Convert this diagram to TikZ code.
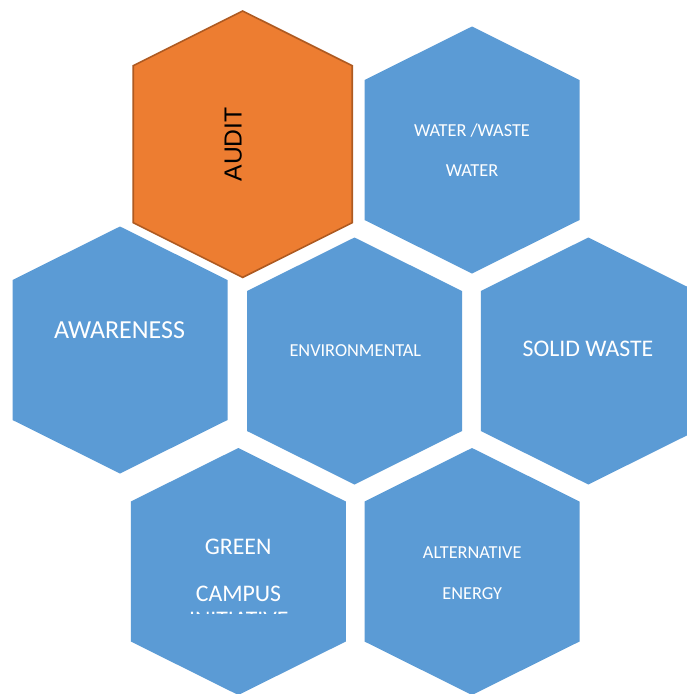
\documentclass[tikz,border=0pt]{standalone}
\usepackage{fontspec}
\setmainfont{Carlito}
\newfontfamily\auditfont{Liberation Sans}
\definecolor{hexblue}{HTML}{5B9BD5}
\definecolor{hexorange}{HTML}{ED7D31}
\definecolor{hexorangeline}{HTML}{AE5A21}
% hexagon with pointy top: #1 cx, #2 cy, #3 half width, #4 half height, #5 tip height, #6 style
\newcommand\hexagonpath[6]{%
  \path[#6] (#1,#2-#4) -- (#1+#3,#2-#4+#5) -- (#1+#3,#2+#4-#5) -- (#1,#2+#4)
    -- (#1-#3,#2+#4-#5) -- (#1-#3,#2-#4+#5) -- cycle;}
\newcommand\bluehex[2]{\hexagonpath{#1}{#2}{107.5}{123.5}{53.5}{bluefill}}
\tikzset{
  bluefill/.style={fill=hexblue},
  orangefill/.style={fill=hexorange, draw=hexorangeline, line width=1.6pt, line join=miter},
  smalltext/.style={text=white, inner sep=0pt, anchor=base, font=\fontsize{18.3}{22}\selectfont},
  bigtext/.style={text=white, inner sep=0pt, anchor=base, font=\fontsize{23.8}{28}\selectfont},
  hugetext/.style={text=white, inner sep=0pt, anchor=base, font=\fontsize{26}{30}\selectfont},
}
\begin{document}
\begin{tikzpicture}[x=1pt, y=-1pt]
\useasboundingbox (0,0) rectangle (687,694);
\fill[white] (0,0) rectangle (687,694);
\clip (0,0) rectangle (687,694);
% hexagons
\hexagonpath{242.7}{144.2}{109.5}{133.2}{54.7}{orangefill}
\bluehex{472}{150}
\bluehex{120}{350}
\bluehex{354.5}{361}
\bluehex{588.3}{361}
\bluehex{238.3}{571.5}
\bluehex{472}{571.5}
% labels
\node[inner sep=0pt, anchor=base, rotate=90, text=black, font=\auditfont\fontsize{24.7}{28}\selectfont] (audit) at (241.7,144.4) {AUDIT};
\node[smalltext] (water1) at (472,136) {WATER /WASTE};
\node[smalltext] (water2) at (472,176.7) {WATER};
\node[hugetext] (awareness) at (119.5,338.3) {AWARENESS};
\node[smalltext] (env) at (355.3,356.7) {ENVIRONMENTAL};
\node[bigtext] (solid) at (588,356.7) {SOLID WASTE};
\node[bigtext] (green1) at (238.2,554.3) {GREEN};
\node[bigtext] (green2) at (238.5,601) {CAMPUS};
\begin{scope}
  \clip (130,600) rectangle (346,613.6);
  \node[bigtext] (green3) at (238.8,627) {INITIATIVE};
\end{scope}
\node[smalltext] (alt1) at (472.2,558.3) {ALTERNATIVE};
\node[smalltext] (alt2) at (472.2,599.3) {ENERGY};
\end{tikzpicture}
\end{document}
